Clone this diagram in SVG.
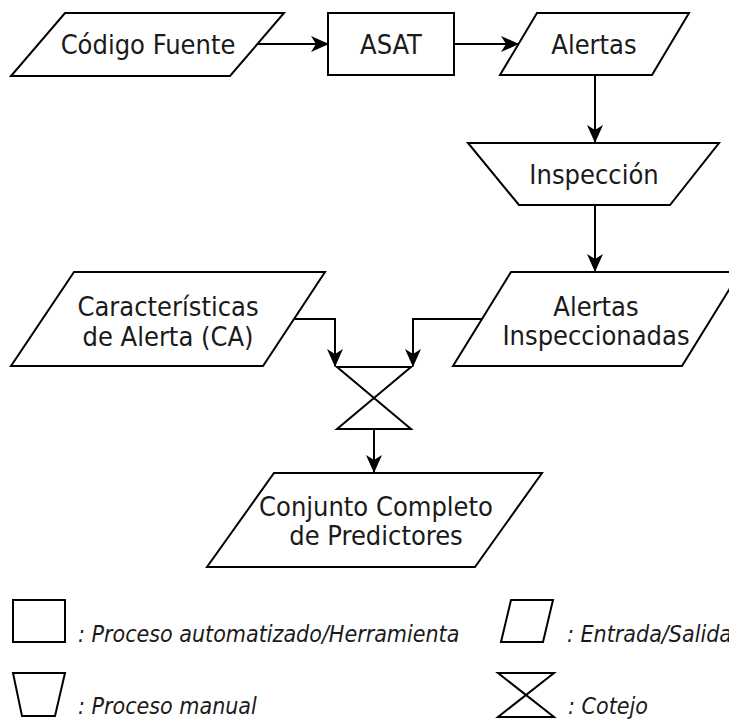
<svg xmlns="http://www.w3.org/2000/svg" width="729" height="719" viewBox="0 0 729 719">
<style>
.shape{fill:#ffffff;stroke:#000000;stroke-width:2;stroke-linejoin:miter}
.lbl{font-family:"DejaVu Sans Condensed","DejaVu Sans",sans-serif;font-stretch:condensed;font-size:27px;fill:#1a1a1a;text-anchor:middle}
.leg{font-family:"DejaVu Sans Condensed","DejaVu Sans",sans-serif;font-stretch:condensed;font-size:23px;font-style:italic;fill:#1a1a1a}
.conn{fill:none;stroke:#000000;stroke-width:2}
</style>
<defs>
<marker id="arrow" viewBox="0 0 18 16" refX="17" refY="8" markerWidth="18" markerHeight="16" markerUnits="userSpaceOnUse" orient="auto">
<path d="M0,0 L18,8 L0,16 L5,8 Z" fill="#000000"/>
</marker>
</defs>
<g id="codigo-fuente">
<polygon class="shape" points="65,13 284,13 230,76 11,76"/>
<text class="lbl" x="148" y="54">Código Fuente</text>
</g>
<g id="asat">
<rect class="shape" x="328" y="13" width="126" height="62"/>
<text class="lbl" x="391" y="54">ASAT</text>
</g>
<g id="alertas">
<polygon class="shape" points="537,13 689,13 652,75 500,75"/>
<text class="lbl" x="594" y="54">Alertas</text>
</g>
<g id="inspeccion">
<polygon class="shape" points="468,143 719,143 670,205 519,205"/>
<text class="lbl" x="594" y="184">Inspección</text>
</g>
<g id="alertas-inspeccionadas">
<polygon class="shape" points="511,272 740,272 682,366 453,366"/>
<text class="lbl" x="596" y="316">Alertas</text>
<text class="lbl" x="596" y="345">Inspeccionadas</text>
</g>
<g id="caracteristicas">
<polygon class="shape" points="74,272 325,272 263,366 11,366"/>
<text class="lbl" x="168" y="316">Características</text>
<text class="lbl" x="168" y="346">de Alerta (CA)</text>
</g>
<g id="cotejo">
<path class="shape" d="M337,367 H411 L337,429 H411 Z"/>
</g>
<g id="conjunto">
<polygon class="shape" points="274,473 542,473 475,567 207,567"/>
<text class="lbl" x="376" y="516">Conjunto Completo</text>
<text class="lbl" x="376" y="545">de Predictores</text>
</g>
<g id="connectors">
<path class="conn" d="M257,44 H328" marker-end="url(#arrow)"/>
<path class="conn" d="M454,44 H518" marker-end="url(#arrow)"/>
<path class="conn" d="M595,75 V142" marker-end="url(#arrow)"/>
<path class="conn" d="M595,205 V271" marker-end="url(#arrow)"/>
<path class="conn" d="M295,319 H335 V366" marker-end="url(#arrow)"/>
<path class="conn" d="M482,319 H413 V366" marker-end="url(#arrow)"/>
<path class="conn" d="M374,429 V472" marker-end="url(#arrow)"/>
</g>
<g id="legend">
<rect class="shape" x="13" y="600" width="52" height="42"/>
<text class="leg" x="78" y="642">: Proceso automatizado/Herramienta</text>
<polygon class="shape" points="511,600 553,600 543,642 501,642"/>
<text class="leg" x="567" y="642">: Entrada/Salida</text>
<polygon class="shape" points="13,673 65,673 55,716 22,716"/>
<text class="leg" x="78" y="714">: Proceso manual</text>
<path class="shape" d="M498,673 H554 L498,717 H554 Z"/>
<text class="leg" x="568" y="714">: Cotejo</text>
</g>
</svg>
